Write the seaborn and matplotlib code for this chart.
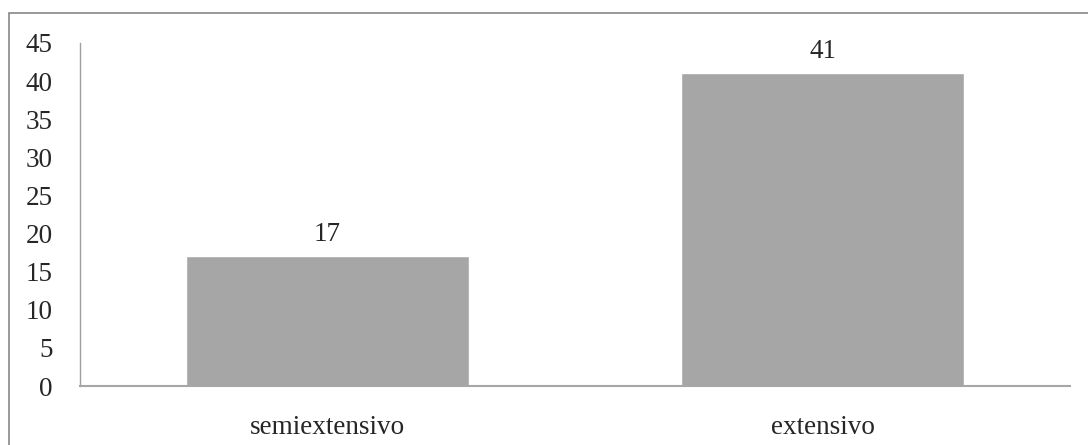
import matplotlib
matplotlib.use("Agg")
import matplotlib.pyplot as plt
import seaborn as sns
import pandas as pd
from matplotlib.patches import Rectangle

categories = ["semiextensivo", "extensivo"]
values = [17, 41]
yticks = [0, 5, 10, 15, 20, 25, 30, 35, 40, 45]

sns.set_style("white")
plt.rcParams["font.family"] = ["Liberation Serif", "DejaVu Serif"]

df = pd.DataFrame({"sistema": categories, "n": values})

fig = plt.figure(figsize=(10.88, 4.45), dpi=100)
ax = fig.add_axes([80 / 1088, 1 - 386 / 445, 990 / 1088, 343 / 445])

sns.barplot(data=df, x="sistema", y="n", color="#A6A6A6", saturation=1,
            width=0.57, ax=ax)

ax.set_ylim(0, 45)
ax.set_xlim(-0.5, 1.5)
ax.set_yticks(yticks)
ax.set_xlabel("")
ax.set_ylabel("")
ax.tick_params(axis="y", length=0, pad=19.5, labelsize=19.5)
ax.tick_params(axis="x", length=0, pad=21, labelsize=19.5)
for lbl in ax.get_yticklabels():
    lbl.set_horizontalalignment("right")

for s in ["top", "right"]:
    ax.spines[s].set_visible(False)
ax.spines["left"].set_color("#A0A0A0")
ax.spines["left"].set_linewidth(1.0)
ax.spines["bottom"].set_color("#A6A6A6")
ax.spines["bottom"].set_linewidth(1.5)

for cont in ax.containers:
    ax.bar_label(cont, labels=[str(v) for v in values], padding=7, fontsize=19.5)

# outer frame of the chart area (only top and left edges fall inside the image)
fig.patches.append(Rectangle((9 / 1088, -0.1), 1.2, (445 - 13) / 445 + 0.1,
                             transform=fig.transFigure, fill=False,
                             edgecolor="#888888", linewidth=1.2))

fig.savefig("out.png", dpi=100)
